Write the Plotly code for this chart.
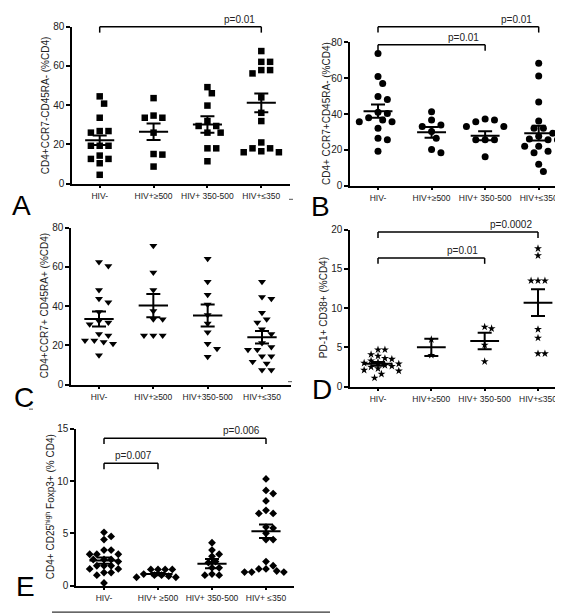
import plotly.graph_objects as go

W, H = 563, 615

categories_A = ["HIV-", "HIV+≥500", "HIV+ 350-500", "HIV+≤350"]
categories_C = ["HIV-", "HIV+≥500", "HIV+350-500", "HIV+≤350"]
categories_E = ["HIV-", "HIV+ ≥500", "HIV+ 350-500", "HIV+ ≤350"]
y_ticks_80 = [0, 20, 40, 60, 80]
y_ticks_20 = [0, 5, 10, 15, 20]
y_ticks_15 = [0, 5, 10, 15]

# Panel A: CD4+CCR7-CD45RA-
A_neg = [44.5, 40.8, 33.6, 26.8, 26.8, 26.0, 19.3, 19.3, 19.3, 14.3, 12.6, 12.6, 10.4, 4.5]
A_500 = [43.6, 34.7, 33.6, 33.6, 26.0, 15.1, 14.8, 8.7]
A_350500 = [49.2, 46.1, 39.8, 31.9, 29.4, 29.4, 26.0, 26.0, 18.0, 18.0, 11.4]
A_350 = [67.6, 62.1, 62.1, 57.9, 57.9, 56.2, 44.0, 36.1, 31.9, 21.0, 18.0, 18.0, 16.5, 16.0, 16.0]
A_mean = [22.1, 26.5, 30.2, 41.2]
A_sem = [2.4, 4.2, 4.2, 4.8]

# Panel B: CD4+ CCR7+CD45RA-
B_neg = [73.8, 61.0, 57.1, 49.8, 48.1, 41.0, 40.3, 37.9, 35.7, 35.7, 36.6, 32.0, 26.5, 25.6, 19.2]
B_500 = [41.2, 36.6, 33.0, 33.9, 30.2, 26.5, 18.3, 20.1]
B_350500 = [37.2, 36.6, 35.7, 33.0, 33.0, 25.6, 25.6, 25.6, 16.1]
B_350 = [68.3, 61.3, 46.7, 36.1, 32.0, 32.0, 29.3, 27.5, 25.6, 26.0, 25.6, 22.0, 22.0, 19.2, 18.3, 11.9, 7.9]
B_mean = [41.6, 29.8, 27.8, 29.3]
B_sem = [3.7, 3.0, 2.5, 4.1]

# Panel C: CD4+CCR7+ CD45RA+
C_neg = [62.5, 60.5, 48.3, 43.8, 42.0, 37.0, 32.5, 31.7, 30.8, 25.8, 25.0, 22.5, 22.5, 21.7, 20.8, 15.0]
C_500 = [70.8, 57.2, 48.3, 37.5, 33.3, 33.3, 25.0, 25.0, 25.0]
C_350500 = [64.2, 52.5, 45.8, 40.8, 35.5, 31.2, 26.7, 20.8, 18.3, 14.2]
C_350 = [52.5, 44.7, 43.8, 36.7, 33.3, 31.7, 28.3, 25.8, 21.2, 19.2, 17.8, 17.8, 14.5, 14.5, 11.7, 10.8, 7.5, 7.5]
C_mean = [33.5, 40.3, 35.3, 24.2]
C_sem = [3.8, 5.9, 5.6, 3.2]

# Panel D: PD-1+ CD38+
D_neg = [4.7, 4.7, 4.1, 3.9, 3.6, 3.5, 3.3, 3.1, 3.0, 2.9, 2.7, 2.6, 2.5, 2.3, 2.1, 2.0, 1.6, 1.1]
D_500 = [6.0, 4.0]
D_350500 = [7.6, 7.4, 5.3, 3.2]
D_350 = [17.6, 16.7, 13.5, 13.5, 13.5, 7.3, 6.2, 4.2, 4.2]
D_mean = [2.9, 5.0, 5.8, 10.7]
D_sem = [0.25, 1.1, 1.05, 1.7]

# Panel E: CD4+ CD25high Foxp3+
E_neg = [5.1, 4.7, 4.4, 3.4, 3.4, 3.0, 3.0, 3.0, 2.5, 2.5, 2.3, 2.5, 1.9, 1.9, 1.9, 1.6, 1.6, 1.25, 1.25, 1.0, 0.25]
E_500 = [1.55, 1.55, 1.55, 1.55, 1.1, 1.0, 0.9, 0.8, 0.8, 1.0]
E_350500 = [4.1, 3.4, 3.0, 2.8, 2.3, 2.2, 1.7, 1.7, 1.1, 1.0, 1.0]
E_350 = [10.2, 9.1, 8.8, 8.1, 7.2, 6.9, 6.9, 5.6, 5.5, 5.0, 4.4, 4.4, 2.3, 1.9, 1.6, 1.6, 1.4, 1.3, 1.3, 1.3]
E_mean = [2.4, 1.1, 2.1, 5.2]
E_sem = [0.3, 0.1, 0.45, 0.65]

# brackets: (from group, to group, y value, label)
A_brackets = [(0, 3, 80, "p=0.01")]
B_brackets = [(0, 3, 88.8, "p=0.01"), (0, 2, 78.7, "p=0.01")]
D_brackets = [(0, 3, 19.7, "p=0.0002"), (0, 2, 16.4, "p=0.01")]
E_brackets = [(0, 3, 14.1, "p=0.006"), (0, 1, 11.7, "p=0.007")]

FONT = "Liberation Sans, Arial, sans-serif"
TXT = "#222222"

# panel pixel geometry: axis-left x, axis-right x, y of 0, y of max, first/last category px
panels = [
    dict(key="A", groups=[A_neg, A_500, A_350500, A_350], mean=A_mean, sem=A_sem,
         cats=categories_A, ymax=80, yt=y_ticks_80, sym="square", msize=6.5, gap=8,
         title="CD4+CCR7-CD45RA- (%CD4)", br=A_brackets,
         px=(64, 282, 173, 13, 91.7, 253.3), tx=37, letter=(13, 195)),
    dict(key="B", groups=[B_neg, B_500, B_350500, B_350], mean=B_mean, sem=B_sem,
         cats=categories_A, ymax=80, yt=y_ticks_80, sym="circle", msize=7, gap=8.5,
         title="CD4+ CCR7+CD45RA- (%CD4)", br=B_brackets,
         px=(342, 558, 175, 29, 370, 530.7), tx=318, letter=(312, 196)),
    dict(key="C", groups=[C_neg, C_500, C_350500, C_350], mean=C_mean, sem=C_sem,
         cats=categories_C, ymax=80, yt=y_ticks_80, sym="triangle-down", msize=7, gap=8.5,
         title="CD4+CCR7+ CD45RA+ (%CD4)", br=[],
         px=(63, 283, 378, 218, 91, 254), tx=36, letter=(16, 391)),
    dict(key="D", groups=[D_neg, D_500, D_350500, D_350], mean=D_mean, sem=D_sem,
         cats=categories_A, ymax=20, yt=y_ticks_20, sym="star", msize=6, gap=6.3,
         title="PD-1+ CD38+ (%CD4)", br=D_brackets,
         px=(342, 555, 380, 220, 370, 530), tx=315, letter=(314, 383)),
    dict(key="E", groups=[E_neg, E_500, E_350500, E_350], mean=E_mean, sem=E_sem,
         cats=categories_E, ymax=15, yt=y_ticks_15, sym="diamond", msize=6, gap=6.5,
         title="CD4+ CD25<sup>high</sup> Foxp3+ (% CD4)", br=E_brackets,
         px=(68, 286, 583, 423, 96, 258), tx=42, letter=(17, 584)),
]

# small stray dashes visible in the original figure
stray_marks = [(283, 189), (23, 403), (282, 375)]


def swarm(vals, px_y, px_x, diam):
    n = len(vals)
    order = sorted(range(n), key=lambda i: -vals[i])
    placed = []
    offs = [0.0] * n
    step = diam * 0.55
    cands = [0.0]
    for k in range(1, 30):
        cands += [k * step, -k * step]
    for i in order:
        y = vals[i] * px_y
        for c in cands:
            ok = all((c - px) ** 2 + (y - py) ** 2 >= (diam * 0.95) ** 2 for px, py in placed)
            if ok:
                placed.append((c, y))
                offs[i] = c / px_x
                break
    return offs


fig = go.Figure()
layout = dict(width=W, height=H, margin=dict(l=0, r=0, t=0, b=0),
              paper_bgcolor="white", plot_bgcolor="white", showlegend=False,
              font=dict(family=FONT, color=TXT))
shapes = []
annotations = []

for n, p in enumerate(panels):
    idx = "" if n == 0 else str(n + 1)
    xa_name, ya_name = "xaxis" + idx, "yaxis" + idx
    xr, yr = "x" + idx, "y" + idx
    ax, ae, y0, ytop, c0, c3 = p["px"]
    unit = (c3 - c0) / 3.0
    r0 = -(c0 - ax) / unit
    r1 = 3 + (ae - c3) / unit
    px_y = (y0 - ytop) / p["ymax"]

    layout[xa_name] = dict(domain=[ax / W, ae / W], range=[r0, r1], anchor=yr,
                           showgrid=False, zeroline=False, showline=True,
                           linecolor="black", linewidth=1.5, ticks="outside",
                           ticklen=3, tickwidth=1.5, tickcolor="black",
                           tickvals=[0, 1, 2, 3], ticktext=p["cats"],
                           tickfont=dict(size=8.5, family=FONT, color=TXT))
    layout[ya_name] = dict(domain=[(H - y0) / H, (H - ytop) / H], range=[0, p["ymax"]],
                           anchor=xr, showgrid=False, zeroline=False, showline=True,
                           linecolor="black", linewidth=1.5, ticks="outside",
                           ticklen=4, tickwidth=1.5, tickcolor="black",
                           tickvals=p["yt"], tickfont=dict(size=10, family=FONT, color=TXT))

    for g, vals in enumerate(p["groups"]):
        offs = swarm(vals, px_y, unit, p["gap"])
        fig.add_trace(go.Scatter(x=[g + o for o in offs], y=vals, mode="markers",
                                 xaxis=xr, yaxis=yr, cliponaxis=False,
                                 marker=dict(symbol=p["sym"], size=p["msize"], color="black",
                                             line=dict(width=0))))
        m = p["mean"][g]
        fig.add_trace(go.Scatter(x=[g - 0.27, g + 0.27], y=[m, m], mode="lines",
                                 xaxis=xr, yaxis=yr, line=dict(color="black", width=2)))
        fig.add_trace(go.Scatter(x=[g], y=[m], mode="markers", xaxis=xr, yaxis=yr,
                                 marker=dict(size=1, color="rgba(0,0,0,0)"),
                                 error_y=dict(type="data", array=[p["sem"][g]], visible=True,
                                              color="black", thickness=2, width=7)))

    def xd(v):
        return (v - r0) / (r1 - r0)

    def yd(v):
        return v / p["ymax"]

    tick_dom = 6.0 / (y0 - ytop)
    for (a, b, yv, lab) in p["br"]:
        shapes.append(dict(type="line", xref=xr + " domain", yref=yr + " domain",
                           x0=xd(a), x1=xd(b), y0=yd(yv), y1=yd(yv),
                           line=dict(color="black", width=1.5)))
        for e in (a, b):
            shapes.append(dict(type="line", xref=xr + " domain", yref=yr + " domain",
                               x0=xd(e), x1=xd(e), y0=yd(yv), y1=yd(yv) - tick_dom,
                               line=dict(color="black", width=1.5)))
        annotations.append(dict(text=lab, xref=xr + " domain", yref=yr + " domain",
                                x=xd(b - 0.08), y=yd(yv), xanchor="right", yanchor="bottom",
                                showarrow=False,
                                font=dict(size=10, family=FONT, color=TXT)))

    # axis title
    annotations.append(dict(text=p["title"], xref="paper", yref="paper",
                            x=p["tx"] / W, y=(H - (y0 + ytop) / 2) / H, textangle=-90,
                            xanchor="center", yanchor="middle", showarrow=False,
                            font=dict(size=10, family=FONT, color=TXT)))
    # panel letter
    lx, ly = p["letter"]
    annotations.append(dict(text=p["key"], xref="paper", yref="paper",
                            x=lx / W, y=(H - ly) / H, xanchor="center", yanchor="middle",
                            showarrow=False, font=dict(size=28, family=FONT, color="black")))

for (sx, sy) in stray_marks:
    shapes.append(dict(type="line", xref="paper", yref="paper",
                       x0=(sx - 2) / W, x1=(sx + 2) / W, y0=(H - sy) / H, y1=(H - sy) / H,
                       line=dict(color="#555555", width=1)))

# bottom rule below panel E
shapes.append(dict(type="line", xref="paper", yref="paper", x0=44 / W, x1=322 / W,
                   y0=(H - 610) / H, y1=(H - 610) / H, line=dict(color="black", width=1)))

layout["shapes"] = shapes
layout["annotations"] = annotations
fig.update_layout(**layout)
fig.write_html("out.html")
